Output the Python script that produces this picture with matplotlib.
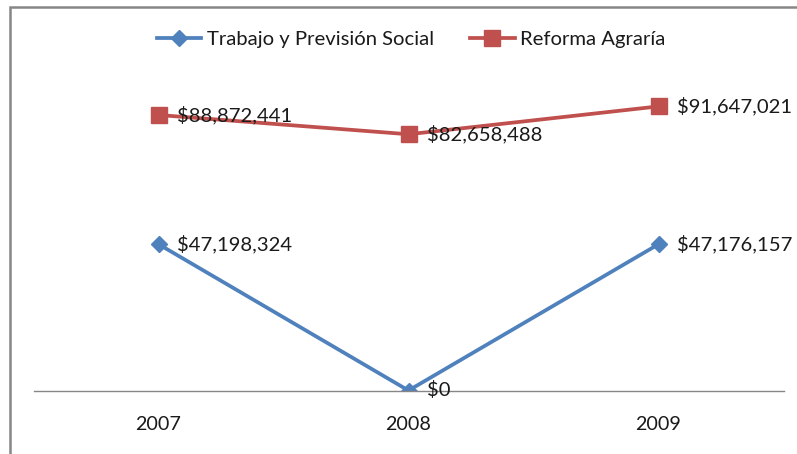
import matplotlib.pyplot as plt
from matplotlib.patches import Rectangle

# data
years = ["2007", "2008", "2009"]
trabajo = [47198324, 0, 47176157]
reforma = [88872441, 82658488, 91647021]
series_names = ["Trabajo y Previsión Social", "Reforma Agraría"]

plt.rcParams['font.family'] = ['Lato', 'DejaVu Sans']
FS = 14.6

W, H = 797, 454
fig = plt.figure(figsize=(W / 100, H / 100), dpi=100)
ax = fig.add_axes([33.5 / W, 1 - 390.5 / H, 750 / W, 310 / H])

# chart border (runs off the right/bottom edge like the original)
fig.patches.append(Rectangle((10 / W, -0.1), 1.2, 1 - 7 / H + 0.1, transform=fig.transFigure,
                             fill=False, edgecolor='#878787', linewidth=1.8))

x = range(len(years))
ax.plot(x, trabajo, color='#4F81BD', linewidth=2.7, marker='D', markersize=8.5,
        label=series_names[0])
ax.plot(x, reforma, color='#C0504D', linewidth=2.7, marker='s', markersize=11,
        label=series_names[1])

def money(v):
    return "${:,.0f}".format(v)

for series in (trabajo, reforma):
    for i, v in enumerate(series):
        ax.annotate(money(v), (i, v), xytext=(13, 0), textcoords='offset points',
                    va='center', ha='left', fontsize=FS, color='#1a1a1a')

ax.set_xlim(-0.5, 2.5)
ax.set_ylim(0, 100e6)
ax.set_xticks(list(x))
ax.set_xticklabels(years, fontsize=FS - 0.4, color='#1a1a1a')
ax.tick_params(axis='x', length=0, pad=18)
ax.set_yticks([])
for s in ['left', 'right', 'top']:
    ax.spines[s].set_visible(False)
ax.spines['bottom'].set_color('#868686')
ax.spines['bottom'].set_linewidth(1.0)
ax.patch.set_alpha(0)

leg = fig.legend(loc='center', bbox_to_anchor=(411 / W, 1 - 39 / H), ncol=2, frameon=False,
                 fontsize=FS, handlelength=2.2, columnspacing=1.8, handletextpad=0.25)
for t in leg.get_texts():
    t.set_color('#1a1a1a')

fig.savefig('out.png', dpi=100)
